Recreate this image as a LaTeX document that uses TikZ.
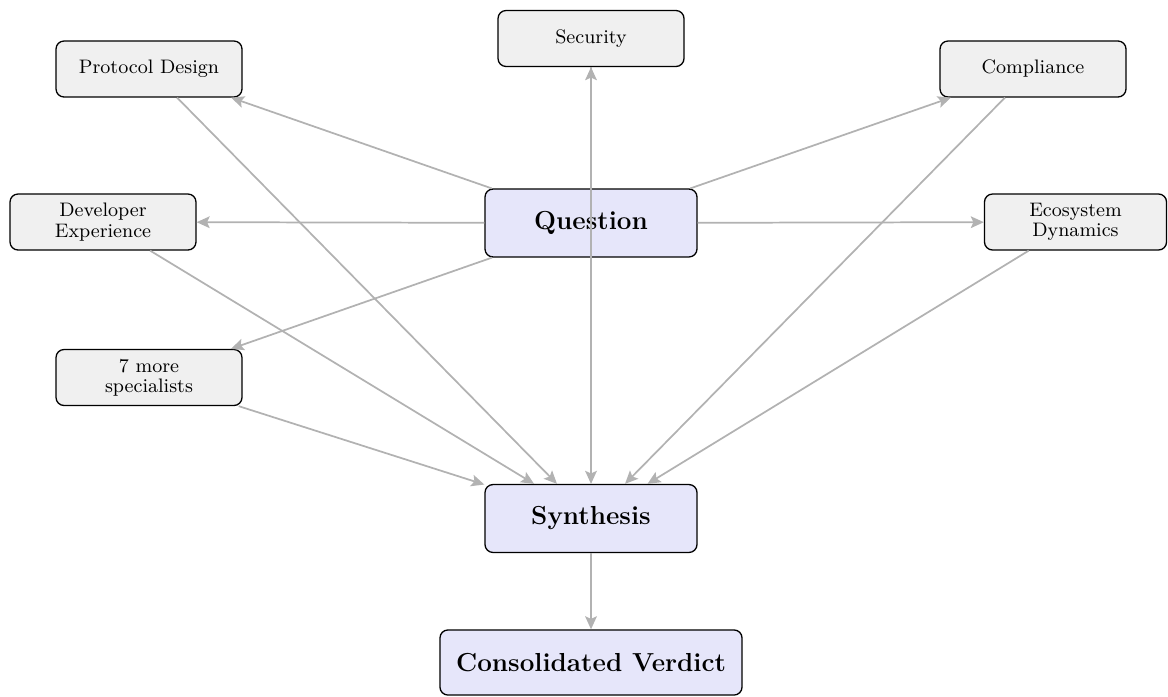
\documentclass[tikz,border=0pt]{standalone}
\usetikzlibrary{arrows.meta}
\definecolor{boxgray}{RGB}{240,240,240}
\definecolor{boxblue}{RGB}{230,230,250}
\definecolor{edgegray}{RGB}{178,178,178}
\begin{document}
\begin{tikzpicture}[x=0.4608pt,y=-0.4608pt,
  spec/.style={draw=black, fill=boxgray, rounded corners=3.7pt, minimum width=85.7pt, minimum height=25.8pt, align=center, font=\fontsize{9}{9.4}\selectfont, inner sep=0pt, line width=0.6pt},
  mainbox/.style={draw=black, fill=boxblue, rounded corners=3.7pt, minimum width=97.7pt, minimum height=31.3pt, font=\large\bfseries, inner sep=0pt, line width=0.6pt},
  flow/.style={draw=edgegray, line width=0.8pt, -{Stealth[length=6pt,width=5.4pt,inset=1.2pt]}}]
\useasboundingbox (0,0) rectangle (1168,696);
\node[spec] (pd) at (149,69) {Protocol Design};
\node[spec] (sec) at (591,38.5) {Security};
\node[spec] (comp) at (1033,69) {Compliance};
\node[spec] (dev) at (103,222) {Developer\\Experience};
\node[spec, minimum width=83.9pt] (eco) at (1075.5,222) {Ecosystem\\Dynamics};
\node[spec] (more) at (149,377.5) {7 more\\specialists};
\node[mainbox] (q) at (591,223) {Question};
\node[mainbox] (syn) at (591,518.5) {Synthesis};
\node[mainbox, minimum width=139.2pt, minimum height=30pt] (cv) at (591,662.5) {Consolidated Verdict};
\foreach \t in {pd,sec,comp,dev,eco,more} {
  \draw[flow] (q) -- (\t);
}
\foreach \s in {pd,sec,comp,dev,eco,more} {
  \draw[flow] (\s) -- (syn);
}
\draw[flow] (syn) -- (cv);
\end{tikzpicture}
\end{document}
